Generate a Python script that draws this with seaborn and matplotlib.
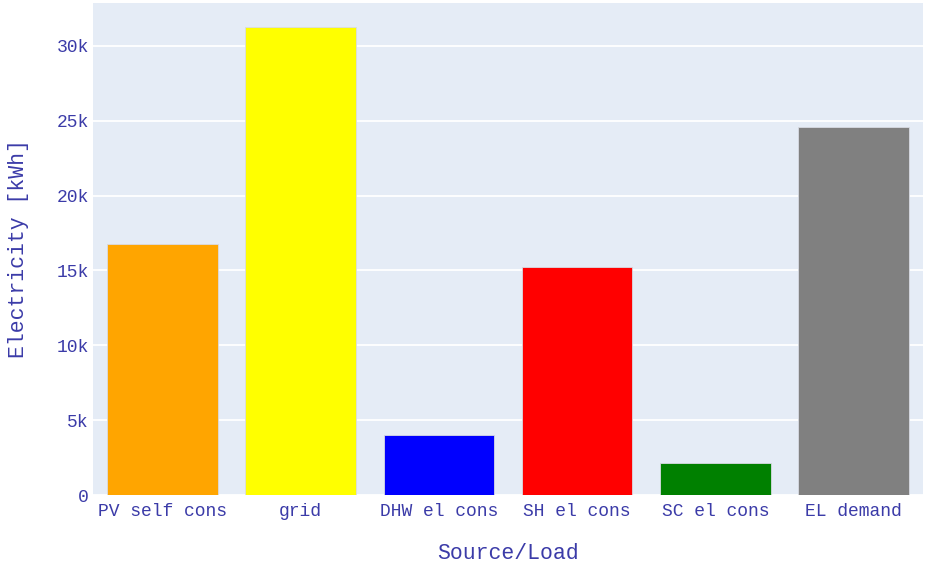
import matplotlib
matplotlib.use("Agg")
import matplotlib.pyplot as plt
import seaborn as sns
import pandas as pd
from matplotlib.ticker import FuncFormatter

categories = ["PV self cons", "grid", "DHW el cons", "SH el cons", "SC el cons", "EL demand"]
values = [16770, 31260, 4010, 15230, 2140, 24580]
colors = ["orange", "yellow", "blue", "red", "green", "gray"]
yticks = [0, 5000, 10000, 15000, 20000, 25000, 30000]

sns.set_theme(style="darkgrid")
plt.rcParams["font.family"] = ["Liberation Mono", "DejaVu Sans Mono"]
text_color = "#3b3ba8"

df = pd.DataFrame({"Source/Load": categories, "Electricity": values})

fig = plt.figure(figsize=(9.25, 5.65), dpi=100)
ax = fig.add_axes([93 / 925, 70 / 565, 830 / 925, 492 / 565])
ax.set_facecolor("#E5ECF6")

sns.barplot(data=df, x="Source/Load", y="Electricity", hue="Source/Load",
            palette=dict(zip(categories, colors)), width=0.8, saturation=1,
            legend=False, ax=ax, zorder=2, linewidth=0.6, edgecolor="#d8dbe3")

ax.set_ylim(0, 32870)
ax.set_xlim(-0.5, len(categories) - 0.5)
ax.set_yticks(yticks)
ax.yaxis.set_major_formatter(FuncFormatter(lambda v, p: "0" if v == 0 else f"{int(v/1000)}k"))
ax.grid(axis="y", color="white", linewidth=1.3, zorder=0)
ax.grid(axis="x", visible=False)
ax.set_axisbelow(True)
for s in ax.spines.values():
    s.set_visible(False)

ax.tick_params(axis="y", colors=text_color, labelsize=13, length=0, pad=3)
ax.tick_params(axis="x", colors=text_color, labelsize=13, length=0, pad=6)
ax.set_xlabel("Source/Load", fontsize=15.5, color=text_color, labelpad=16)
ax.set_ylabel("Electricity [kWh]", fontsize=15.5, color=text_color, labelpad=20)

fig.savefig("out.png", dpi=100, facecolor="white")
